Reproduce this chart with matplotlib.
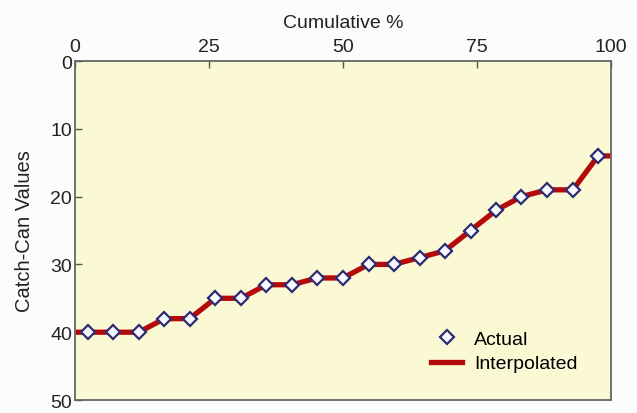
import numpy as np
import matplotlib.pyplot as plt

plt.rcParams['font.family'] = ['Liberation Sans', 'DejaVu Sans']

# catch-can readings, ranked (x = cumulative %)
cum_pct = [2.4, 7.1, 11.9, 16.7, 21.4, 26.2, 31.0, 35.7, 40.5, 45.2, 50.0,
           54.8, 59.5, 64.3, 69.0, 73.8, 78.6, 83.3, 88.1, 92.9, 97.6]
catch = [40, 40, 40, 38, 38, 35, 35, 33, 33, 32, 32,
         30, 30, 29, 28, 25, 22, 20, 19, 19, 14]

# interpolated curve, held flat out to 0 and 100
interp_x = [0] + cum_pct + [100]
interp_y = [40] + catch + [14]

fig = plt.figure(figsize=(6.37, 4.14), dpi=100, facecolor='#fcfcfc')
ax = fig.add_axes([0.1177, 0.0314, 0.8414, 0.8188])
ax.set_facecolor('#fbf8d4')

ax.plot(interp_x, interp_y, color='#b40a0a', lw=3.8, label='Interpolated', zorder=2)
ax.plot(cum_pct, catch, ls='none', marker='D', ms=7.3, mfc='#f8f8ff',
        mec='#2b2b73', mew=1.6, label='Actual', zorder=3)

ax.set_xlim(0, 100)
ax.set_ylim(50, 0)
ax.set_xticks([0, 25, 50, 75, 100])
ax.set_yticks([0, 10, 20, 30, 40, 50])
ax.xaxis.tick_top()
ax.xaxis.set_label_position('top')
ax.tick_params(axis='both', direction='in', length=5, width=1, color='#555555',
               labelsize=14, pad=2, labelcolor='#222222')
ax.tick_params(axis='x', pad=4)
for s in ax.spines.values():
    s.set_color('#666666')
    s.set_linewidth(1.3)

ax.set_xlabel('Cumulative %', fontsize=14, labelpad=8, color='#222222')
ax.set_ylabel('Catch-Can Values', fontsize=14.5, labelpad=12, color='#222222')

h, l = ax.get_legend_handles_labels()
ax.legend(h[::-1], l[::-1], loc='lower right', frameon=False, fontsize=14,
          handlelength=1.6, handletextpad=0.6, labelspacing=0.35,
          bbox_to_anchor=(0.97, 0.03))

fig.savefig('out.png', dpi=100, facecolor=fig.get_facecolor())
